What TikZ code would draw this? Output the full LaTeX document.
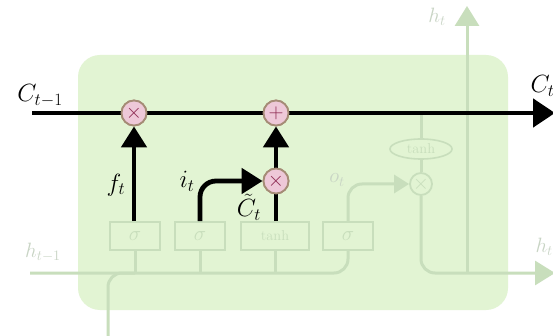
\documentclass[tikz,border=0pt]{standalone}
\usetikzlibrary{arrows.meta,shapes.geometric}
\definecolor{boxfill}{RGB}{226,244,211}
\definecolor{faint}{RGB}{200,222,188}
\definecolor{fainttext}{RGB}{200,212,196}
\definecolor{opfill}{RGB}{238,200,216}
\definecolor{opdraw}{RGB}{165,140,118}
\definecolor{opmark}{RGB}{140,40,80}
\tikzset{
  op/.style={circle,draw=opdraw,fill=opfill,line width=1.8pt,minimum size=25pt,inner sep=0pt,text=opmark,font=\bfseries\huge},
  fop/.style={circle,draw=faint,line width=1.8pt,minimum size=22pt,inner sep=0pt},
  gatebox/.style={draw=faint,line width=1.6pt,minimum height=28pt,inner sep=0pt,text=faint,font=\huge},
  strong/.style={line width=4.8pt,black,-{Triangle[length=21pt,width=25pt]}},
  weak/.style={line width=3pt,faint,rounded corners=14pt},
  lbl/.style={font=\fontsize{24}{26}\selectfont},
  flbl/.style={font=\fontsize{22}{24}\selectfont,text=fainttext},
}
\begin{document}
\begin{tikzpicture}[x=1pt,y=-1pt]
\useasboundingbox (0,0) rectangle (553,336);
\fill[white] (0,0) rectangle (553,336);
\fill[boxfill,rounded corners=22pt] (78,55) rectangle (508,310);

% faded gate boxes
\node[gatebox,minimum width=50pt] (s1) at (135,236) {$\sigma$};
\node[gatebox,minimum width=50pt] (s2) at (200,236) {$\sigma$};
\node[gatebox,minimum width=68pt,font=\Large] (th) at (275,236) {tanh};
\node[gatebox,minimum width=50pt] (s3) at (348,236) {$\sigma$};
\node[ellipse,draw=faint,line width=1.6pt,minimum width=62pt,minimum height=20pt,inner sep=0pt,text=faint,font=\Large] (tc) at (421,149) {tanh};
\node[fop,text=faint,font=\huge] (m3) at (421,184) {$\times$};

% faded coordinates
\coordinate (hin) at (30,273);
\coordinate (xin) at (108,336);
\coordinate (hj) at (108,273);
\coordinate (hout) at (555,273);
\coordinate (htop) at (467,6);
\coordinate (hup) at (467,273);
\coordinate (ctop) at (421,113);

% faded connectors
\draw[weak] (hin) -- (s3.south |- hin) -- (s3.south);
\draw[weak] (xin) -- (hj) -- (s1.south |- hin);
\draw[weak] (s1.south) -- (s1.south |- hin);
\draw[weak] (s2.south) -- (s2.south |- hin);
\draw[weak] (th.south) -- (th.south |- hin);
\draw[weak,-{Triangle[length=15pt,width=18pt]}] (s3.north) -- (s3.north |- m3) -- (m3.west);
\draw[weak] (ctop) -- (tc.north);
\draw[weak] (tc.south) -- (m3.north);
\draw[weak,-{Triangle[length=20pt,width=24pt]}] (m3.south) -- (m3.south |- hout) -- (hout);
\draw[weak,rounded corners=0pt,-{Triangle[length=20pt,width=24pt]}] (hup) -- (htop);

% faded labels
\node[flbl] (lh1) at (43,252) {$h_{t-1}$};
\node[flbl] (lht) at (437,17) {$h_t$};
\node[flbl,anchor=west] (lhr) at (532,247) {$h_t$};
\node[flbl] (lot) at (337,180) {$o_t$};

% cell state and operators
\node[op] (m1) at (134,113) {$\times$};
\node[op] (pl) at (276,113) {$+$};
\node[op] (m2) at (276,181) {$\times$};
\coordinate (cin) at (32,113);
\coordinate (cout) at (555,113);
\draw[line width=4.8pt,-{Triangle[length=22pt,width=28pt]}] (cin) -- (m1) -- (pl) -- (cout);
\node[op] at (134,113) {$\times$};
\node[op] at (276,113) {$+$};

% highlighted gate connectors
\draw[strong] (s1.north -| m1) -- (m1.south);
\draw[line width=4.8pt] (th.north -| m2) -- (m2.south);
\draw[strong] (m2.north) -- (pl.south);
\draw[strong,rounded corners=16pt] (s2.north) -- (s2.north |- m2) -- (m2.west);
\node[op] at (276,181) {$\times$};

% labels
\node[lbl] (lc1) at (40,96) {$C_{t-1}$};
\node[lbl,anchor=west] (lct) at (527,86) {$C_t$};
\node[lbl] (lft) at (116,185) {$f_t$};
\node[lbl] (lit) at (187,181) {$i_t$};
\node[lbl,inner sep=0pt] (lcc) at (249,207) {$\tilde{C}_t$};
\end{tikzpicture}
\end{document}
